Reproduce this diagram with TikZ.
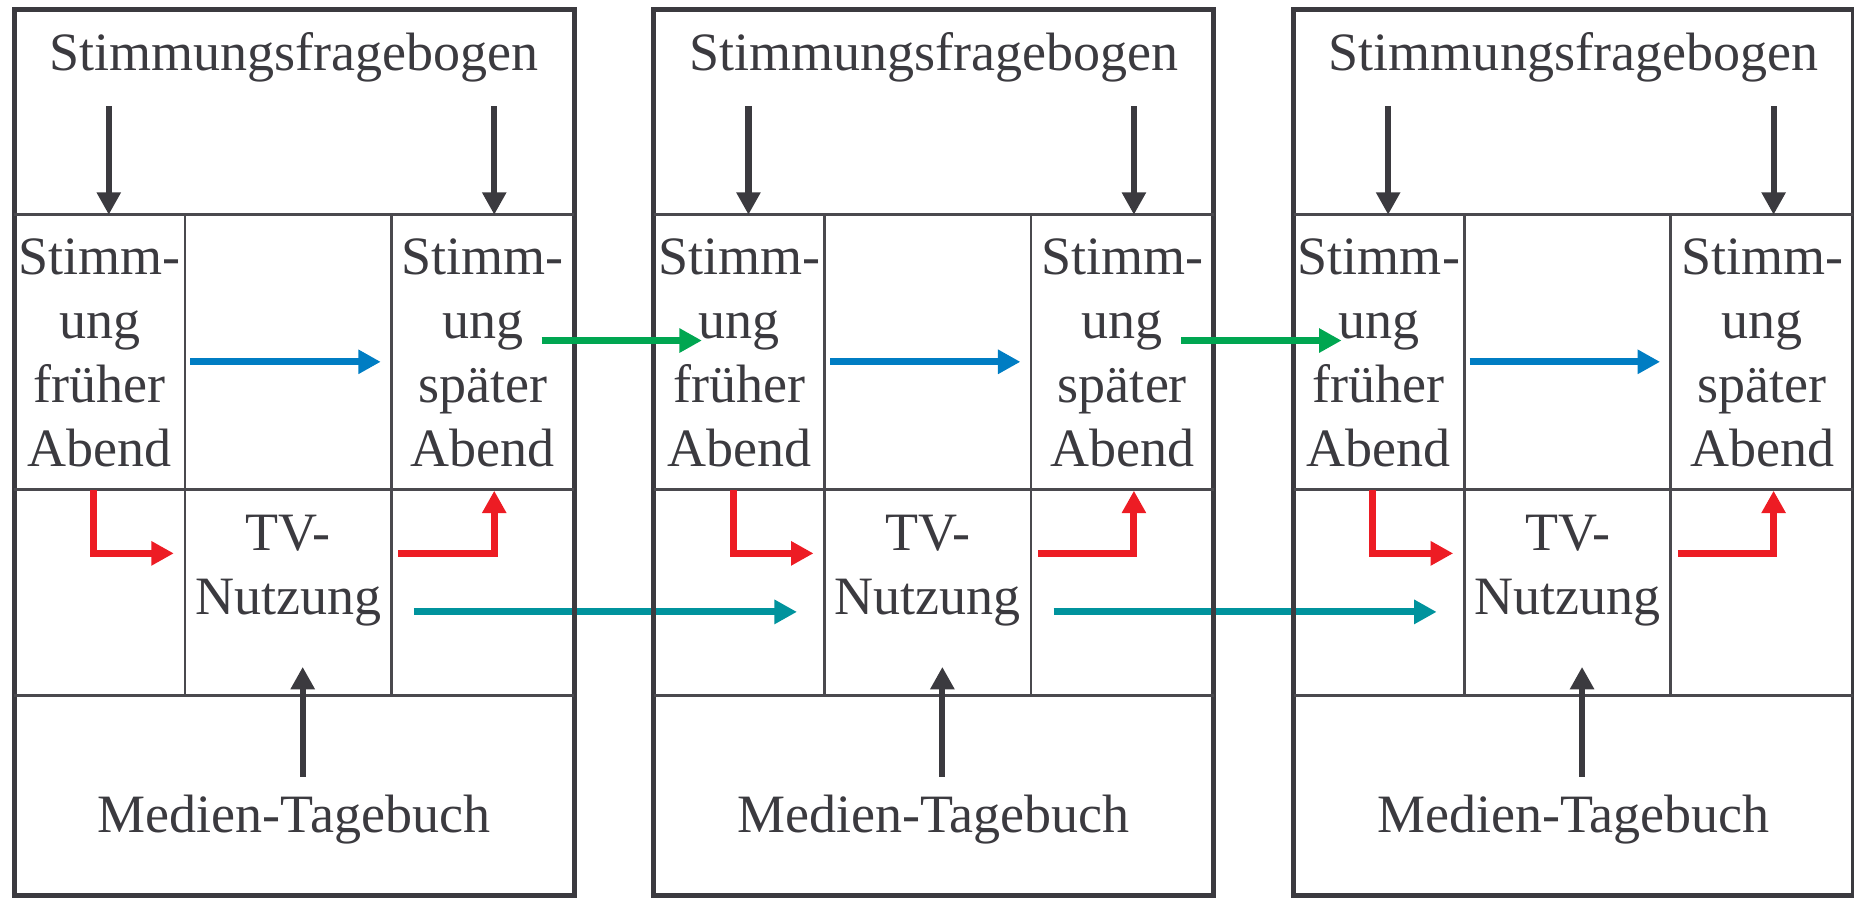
\documentclass[tikz,border=0pt]{standalone}
\usepackage{fontspec}
\setmainfont{Liberation Serif}
\usetikzlibrary{arrows.meta}
\definecolor{inkgray}{HTML}{3B3A3F}
\definecolor{gridgray}{HTML}{4A494E}
\definecolor{arrowblue}{RGB}{0,125,195}
\definecolor{arrowgreen}{RGB}{0,166,81}
\definecolor{arrowred}{RGB}{237,28,36}
\definecolor{arrowteal}{RGB}{0,147,157}
\begin{document}
\begin{tikzpicture}[x=0.2mm, y=-0.2mm,
  every node/.style={text=inkgray, inner sep=0pt, font=\fontsize{26pt}{30.8pt}\selectfont},
  frame/.style={draw=inkgray, line width=0.85mm},
  grid/.style={draw=gridgray, line width=0.45mm},
  cell/.style={align=center},
  flow/.style={line width=1.2mm, -{Triangle[length=3.8mm,width=3.9mm]}},
  input/.style={flow, line width=1.05mm, draw=inkgray}]
  \useasboundingbox (0,0) rectangle (1568,760);
  % one panel per evening
  \foreach \i/\dx in {1/0, 2/541, 3/1082} {
    \begin{scope}[shift={(\dx,0)}]
      \coordinate (tv-out\i) at (350,517.5);
      \coordinate (tv-in\i) at (133,517.5);
      \coordinate (green-out\i) at (458,288);
      \coordinate (green-in\i) at (52.6,288);
    \end{scope}
  }
  \draw[flow, arrowteal] (tv-out1) -- (tv-in2);
  \draw[flow, arrowteal] (tv-out2) -- (tv-in3);
  \foreach \i/\dx in {1/0, 2/541, 3/1082} {
    \begin{scope}[shift={(\dx,0)}]
      \draw[frame] (12,8) rectangle (485.5,757.5);
      \draw[grid] (12,181.6) -- (485.5,181.6)
        (12,414) -- (485.5,414)
        (12,588) -- (485.5,588)
        (156.4,181.6) -- (156.4,588)
        (331,181.6) -- (331,588);
      % texts
      \node[anchor=base] (quest\i) at (248.7,60) {Stimmungsfragebogen};
      \node[cell] (early\i) at (84.2,298.4) {Stimm-\\ung\\früher\\Abend};
      \node[cell] (late\i) at (408.3,298.4) {Stimm-\\ung\\später\\Abend};
      \node[cell] (tv\i) at (243.7,482.3) {TV-\\Nutzung};
      \node[anchor=base] (diary\i) at (248.7,704) {Medien-Tagebuch};
      % arrow ends
      \coordinate (q-left\i) at (92,90);
      \coordinate (early-top\i) at (92,181.6);
      \coordinate (q-right\i) at (418,90);
      \coordinate (late-top\i) at (418,181.6);
      \coordinate (diary-out\i) at (256,657);
      \coordinate (tv-bottom\i) at (256,564);
      \coordinate (early-out\i) at (161,306);
      \coordinate (late-in\i) at (322,306);
      \coordinate (early-bottom\i) at (79,414);
      \coordinate (tv-left\i) at (147,468);
      \coordinate (tv-right\i) at (337,468);
      \coordinate (late-bottom\i) at (418,415);
      % arrows inside the panel
      \draw[input] (q-left\i) -- (early-top\i);
      \draw[input] (q-right\i) -- (late-top\i);
      \draw[input] (diary-out\i) -- (tv-bottom\i);
      \draw[flow, arrowblue] (early-out\i) -- (late-in\i);
      \draw[flow, arrowred] (early-bottom\i) |- (tv-left\i);
      \draw[flow, arrowred] (tv-right\i) -| (late-bottom\i);
    \end{scope}
  }
  % from one evening to the next
  \draw[flow, arrowgreen] (green-out1) -- (green-in2);
  \draw[flow, arrowgreen] (green-out2) -- (green-in3);
\end{tikzpicture}
\end{document}
